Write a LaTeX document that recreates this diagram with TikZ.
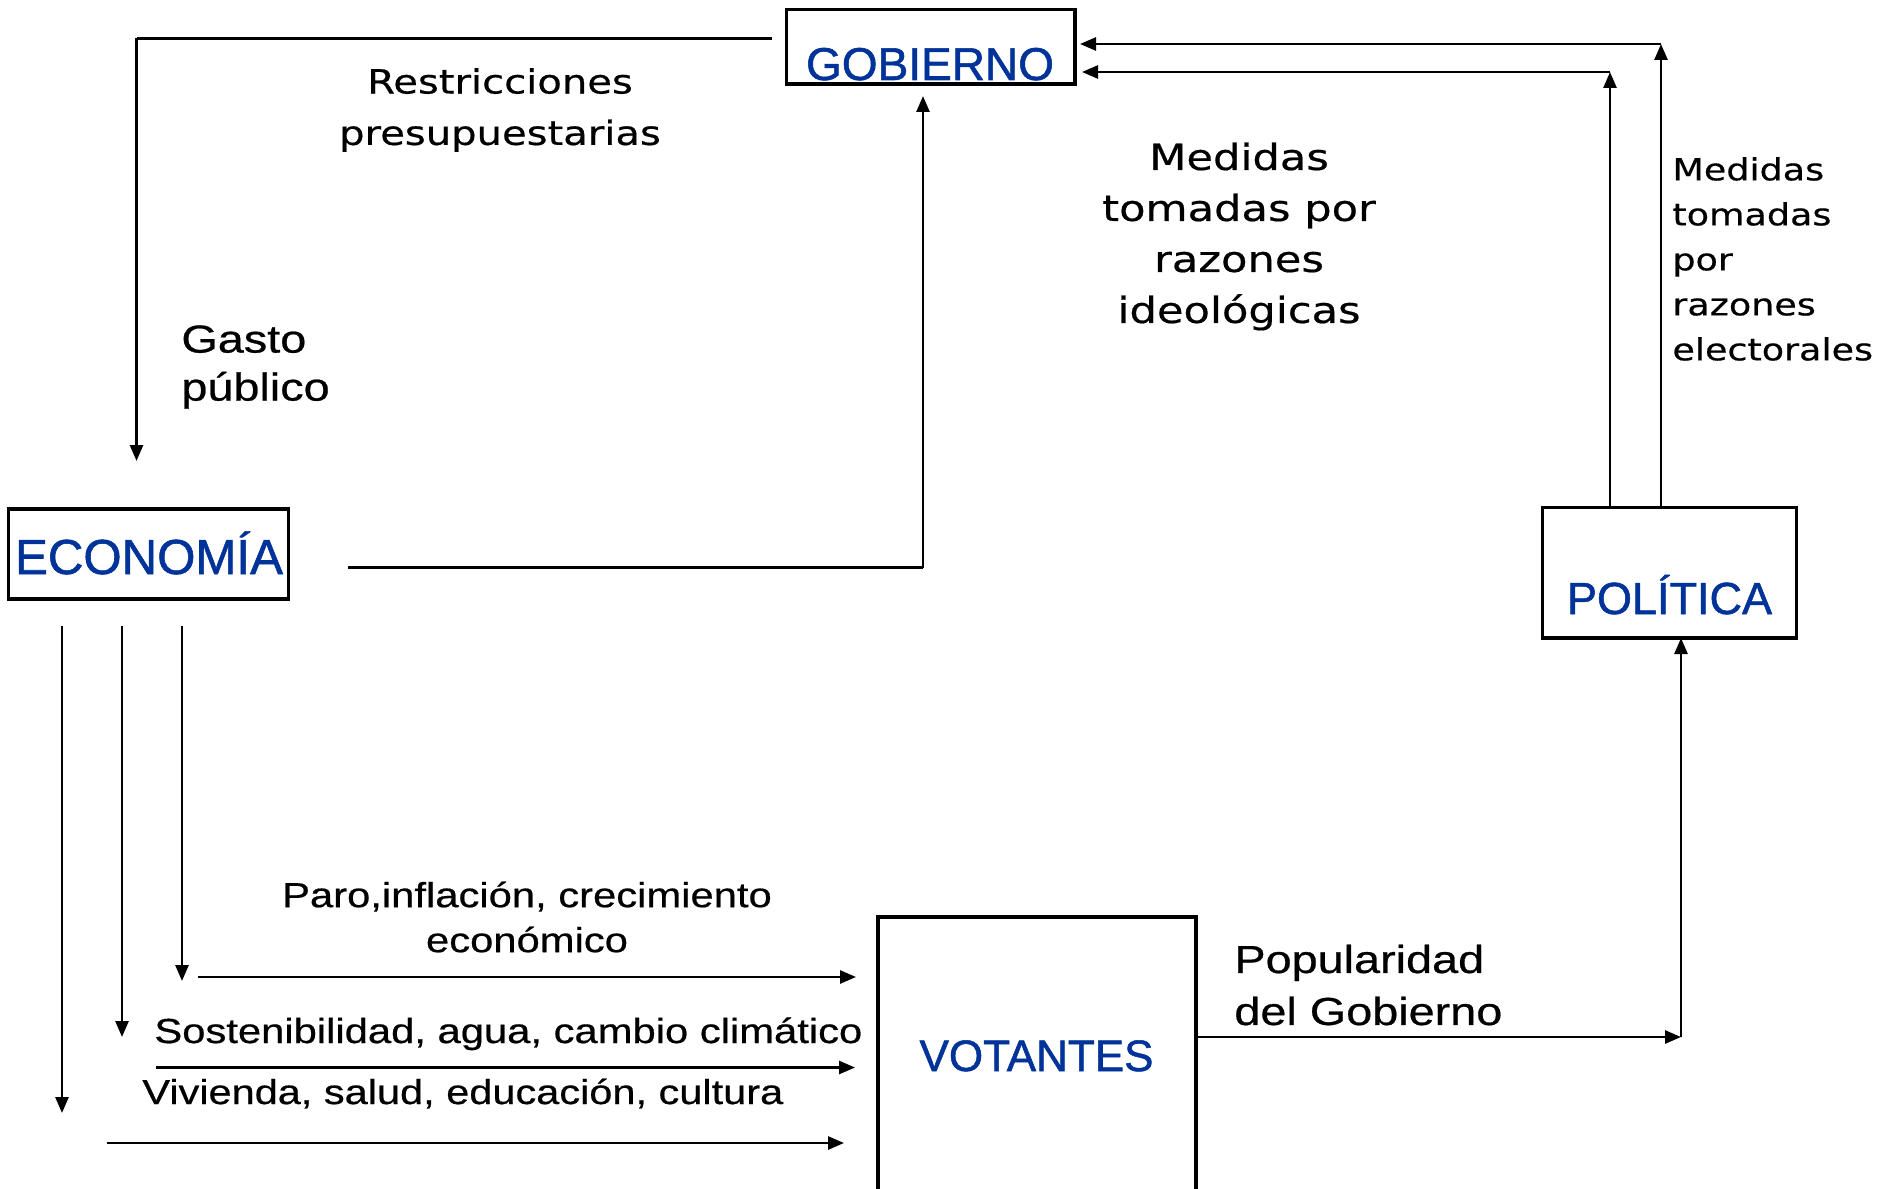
\documentclass[tikz,border=0pt]{standalone}
\usepackage{fontspec}
\setmainfont{Liberation Sans}
\newfontfamily\arl[FakeStretch=1.2,FakeBold=0.6]{Liberation Sans}
\newfontfamily\dvs[FakeStretch=1.2,FakeBold=0.5]{DejaVu Sans}
\newfontfamily\boxf[FakeBold=1.2]{Liberation Sans}
\usetikzlibrary{arrows.meta}
\definecolor{boxblue}{RGB}{0,51,153}
\begin{document}
\begin{tikzpicture}[x=0.5pt,y=-0.5pt,
  box/.style={draw=black,line width=1.7pt,rectangle,inner sep=0pt},
  boxtxt/.style={text=boxblue,inner sep=0pt,font=\boxf\fontsize{23}{28}\selectfont},
  conn/.style={draw=black,line width=1.35pt},
  arr/.style={conn,-{Triangle[length=8pt,width=6.5pt]}},
  lab/.style={inner sep=0pt,text=black}]
\useasboundingbox[fill=white] (0,0) rectangle (1877,1188);

% boxes
\node[box,minimum width=144.25pt,minimum height=37.25pt] (gob) at (930.75,46.75) {};
\node[boxtxt,anchor=base] (gobt) at (930,80) {GOBIERNO};
\node[box,minimum width=140.2pt,minimum height=45pt] (eco) at (148.5,554) {};
\node[boxtxt,anchor=base,font=\boxf\fontsize{24.6}{28}\selectfont] (ecot) at (149,574) {ECONOMÍA};
\node[box,minimum width=127pt,minimum height=65.15pt] (pol) at (1669.7,572.8) {};
\node[boxtxt,anchor=base,font=\boxf\fontsize{22.5}{28}\selectfont] (polt) at (1669.5,614) {POLÍTICA};
\node[box,minimum width=159pt,minimum height=139pt] (vot) at (1037,1056) {};
\node[boxtxt,anchor=base,font=\boxf\fontsize{22}{28}\selectfont] (vott) at (1036.5,1071) {VOTANTES};

% labels
\node[lab,align=center,font=\dvs\fontsize{16.7}{25.7}\selectfont] (restr) at (500,110) {Restricciones\\presupuestarias};
\node[lab,align=left,anchor=west,font=\arl\fontsize{19.5}{24}\selectfont] (gasto) at (181,367) {Gasto\\público};
\node[lab,align=center,font=\dvs\fontsize{18}{25.5}\selectfont] (ideo) at (1239,236.5) {Medidas\\tomadas por\\razones\\ideológicas};
\node[lab,align=left,anchor=west,font=\dvs\fontsize{15.2}{22.5}\selectfont] (elect) at (1672,259) {Medidas\\tomadas\\por\\razones\\electorales};
\node[lab,align=center,font=\arl\fontsize{17.4}{22.5}\selectfont] (paro) at (527,917) {Paro,inflación, crecimiento\\económico};
\node[lab,anchor=base west,font=\arl\fontsize{17.4}{22}\selectfont] (sost) at (154,1043) {Sostenibilidad, agua, cambio climático};
\node[lab,anchor=base west,font=\arl\fontsize{17.3}{22}\selectfont] (viv) at (142,1104) {Vivienda, salud, educación, cultura};
\node[lab,align=left,anchor=west,font=\arl\fontsize{19.5}{26}\selectfont] (popu) at (1234,985) {Popularidad\\del Gobierno};

% coordinates
\coordinate (g0) at (772,38.3);
\coordinate (g1) at (136.5,38.3);
\coordinate (g2) at (136.5,461);
\coordinate (e0) at (348,567.5);
\coordinate (e1) at (923,567.5);
\coordinate (e2) at (923,96);
\coordinate (a1) at (182,626);
\coordinate (a1b) at (182,981);
\coordinate (a2) at (122,626);
\coordinate (a2b) at (122,1037);
\coordinate (a3) at (62,626);
\coordinate (a3b) at (62,1113);
\coordinate (h1) at (198,977);
\coordinate (h1b) at (856,977);
\coordinate (h2) at (156,1067.5);
\coordinate (h2b) at (855,1067.5);
\coordinate (h3) at (107,1143);
\coordinate (h3b) at (844,1143);
\coordinate (v0) at (1196,1037);
\coordinate (v1) at (1681,1037);
\coordinate (p0) at (1681,638);
\coordinate (pi0) at (1610,507.7);
\coordinate (pi1) at (1610,72);
\coordinate (po0) at (1661,507.7);
\coordinate (po1) at (1661,44);
\coordinate (gi) at (1082,72);
\coordinate (go) at (1080,44);

% connectors
\draw[conn] (g0) -- (g1);
\draw[arr] (g1) -- (g2);
\draw[conn] (e0) -- (e1);
\draw[arr] (e1) -- (e2);
\draw[arr] (a1) -- (a1b);
\draw[arr] (a2) -- (a2b);
\draw[arr] (a3) -- (a3b);
\draw[arr] (h1) -- (h1b);
\draw[arr] (h2) -- (h2b);
\draw[arr] (h3) -- (h3b);
\draw[arr] (v0) -- (v1);
\draw[arr] (v1) -- (p0);
\draw[arr] (pi0) -- (pi1);
\draw[arr] (pi1) -- (gi);
\draw[arr] (po0) -- (po1);
\draw[arr] (po1) -- (go);
\end{tikzpicture}
\end{document}
